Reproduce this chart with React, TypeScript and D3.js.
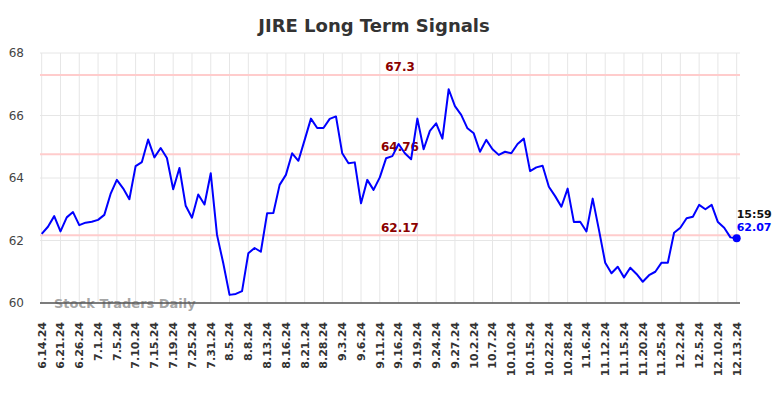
import React from "react";
import * as d3 from "d3";

const values: number[] = [
  62.21, 62.44, 62.78, 62.29, 62.74, 62.91, 62.49, 62.57, 62.6, 62.66,
  62.82, 63.49, 63.94, 63.67, 63.32, 64.38, 64.51, 65.23, 64.66, 64.96,
  64.64, 63.64, 64.32, 63.11, 62.73, 63.47, 63.15, 64.15, 62.18, 61.27,
  60.26, 60.29, 60.38, 61.59, 61.76, 61.64, 62.87, 62.88, 63.78, 64.1,
  64.79, 64.55, 65.22, 65.9, 65.6, 65.6, 65.89, 65.97, 64.79, 64.47,
  64.5, 63.19, 63.94, 63.62, 64.02, 64.63, 64.7, 65.09, 64.79, 64.6,
  65.9, 64.92, 65.51, 65.75, 65.26, 66.84, 66.3, 66.02, 65.59, 65.43,
  64.84, 65.22, 64.92, 64.74, 64.84, 64.79, 65.09, 65.26, 64.22, 64.34,
  64.39, 63.72, 63.42, 63.08, 63.66, 62.59, 62.6, 62.29, 63.34, 62.34,
  61.29, 60.95, 61.16, 60.82, 61.13, 60.93, 60.68, 60.89, 61.0, 61.29,
  61.29, 62.25, 62.41, 62.71, 62.76, 63.14, 63.0, 63.14, 62.59, 62.41,
  62.1, 62.07,
];

const tickLabels: string[] = [
  "6.14.24", "6.21.24", "6.26.24", "7.1.24", "7.5.24", "7.10.24", "7.15.24",
  "7.19.24", "7.25.24", "7.31.24", "8.5.24", "8.8.24", "8.13.24", "8.16.24",
  "8.21.24", "8.28.24", "9.3.24", "9.6.24", "9.11.24", "9.16.24", "9.19.24",
  "9.24.24", "9.27.24", "10.2.24", "10.7.24", "10.10.24", "10.15.24",
  "10.22.24", "10.28.24", "11.6.24", "11.12.24", "11.15.24", "11.20.24",
  "11.25.24", "12.2.24", "12.5.24", "12.10.24", "12.13.24",
];

const yTicks: number[] = [60, 62, 64, 66, 68];
const signalLevels: number[] = [67.3, 64.76, 62.17];
const signalLabels: string[] = ["67.3", "64.76", "62.17"];
const lastTime = "15:59";
const title = "JIRE Long Term Signals";
const watermark = "Stock Traders Daily";
const tickEvery = 3;

export default function App() {
  const W = 784;
  const H = 398;
  const plotL = 40;
  const plotR = 740;
  const x = d3.scaleLinear().domain([0, values.length - 1]).range([41.7, 736.7]);
  const y = d3.scaleLinear().domain([60, 68]).range([303, 53]);
  const line = d3
    .line<number>()
    .x((_, i) => x(i))
    .y((d) => y(d));
  const font = "'DejaVu Sans', sans-serif";
  const lastIdx = values.length - 1;
  const lastVal = values[lastIdx];

  return (
    <svg
      width={W}
      height={H}
      style={{ position: "absolute", left: 0, top: 0, background: "#fff" }}
      fontFamily={font}
    >
      <rect x={0} y={0} width={W} height={H} fill="#fff" />
      {/* horizontal grid */}
      {yTicks.map((t) => (
        <line key={"h" + t} x1={plotL} x2={plotR} y1={y(t)} y2={y(t)} stroke="#e6e6e6" strokeWidth={1} />
      ))}
      {/* vertical grid */}
      {tickLabels.map((lab, k) => (
        <line
          key={"v" + lab}
          x1={x(k * tickEvery)}
          x2={x(k * tickEvery)}
          y1={y(68)}
          y2={y(60)}
          stroke="#e6e6e6"
          strokeWidth={1}
        />
      ))}
      {/* signal lines */}
      {signalLevels.map((v) => (
        <line key={"s" + v} x1={plotL} x2={plotR} y1={y(v)} y2={y(v)} stroke="#ffcccc" strokeWidth={2} />
      ))}
      {/* y labels */}
      {yTicks.map((t) => (
        <text key={"yl" + t} x={24} y={y(t)} dy="0.35em" textAnchor="end" fontSize={12} fill="#444">
          {t}
        </text>
      ))}
      {/* watermark */}
      <text x={54} y={307.5} fontSize={13} fontWeight="bold" fill="#999" fillOpacity={0.9}>
        {watermark}
      </text>
      {/* x axis */}
      <line x1={plotL} x2={plotR} y1={y(60)} y2={y(60)} stroke="#555" strokeWidth={1.5} />
      {/* x labels */}
      {tickLabels.map((lab, k) => (
        <text
          key={"xl" + lab}
          transform={`translate(${x(k * tickEvery)},322) rotate(-90)`}
          dy="0.35em"
          textAnchor="end"
          fontSize={11}
          fontWeight="bold"
          fill="#333"
        >
          {lab}
        </text>
      ))}
      {/* signal labels */}
      {signalLevels.map((v, i) => (
        <text
          key={"sl" + v}
          x={400}
          y={y(v) - 3.5}
          textAnchor="middle"
          fontSize={12}
          fontWeight="bold"
          fill="#8b0000"
        >
          {signalLabels[i]}
        </text>
      ))}
      {/* price line */}
      <path d={line(values) || ""} fill="none" stroke="#0000ff" strokeWidth={2} strokeLinejoin="round" />
      <circle cx={x(lastIdx)} cy={y(lastVal)} r={4} fill="#0000ff" />
      <text x={x(lastIdx)} y={218} fontSize={11} fontWeight="bold" fill="#111">
        {lastTime}
      </text>
      <text x={x(lastIdx)} y={231} fontSize={11} fontWeight="bold" fill="#0000ff">
        {lastVal.toFixed(2)}
      </text>
      {/* title */}
      <text x={374} y={31.5} textAnchor="middle" fontSize={18} fontWeight="bold" fill="#333">
        {title}
      </text>
    </svg>
  );
}
